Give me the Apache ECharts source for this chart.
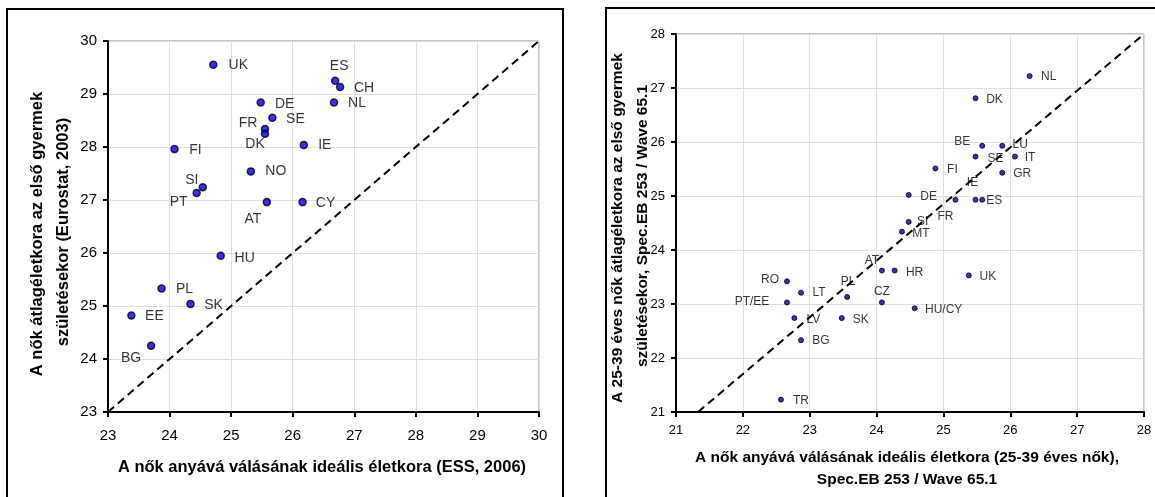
<!DOCTYPE html>
<html>
<head>
<meta charset="utf-8">
<script src="https://cdn.jsdelivr.net/npm/echarts@6/dist/echarts.min.js"></script>
<style>
  html, body { margin: 0; padding: 0; background: #fff; }
  #main { width: 1155px; height: 497px; }
</style>
</head>
<body>
<div id="main"></div>
<script>
// bal oldali ábra (ESS 2006 / Eurostat 2003)
var codesL = ['UK', 'ES', 'CH', 'DE', 'NL', 'SE', 'FR', 'DK', 'FI', 'IE', 'NO', 'SI', 'PT', 'AT', 'CY', 'HU', 'PL', 'SK', 'EE', 'BG'];
var xL = [24.71, 26.69, 26.77, 25.48, 26.67, 25.67, 25.55, 25.55, 24.08, 26.18, 25.32, 24.54, 24.44, 25.58, 26.16, 24.83, 23.87, 24.34, 23.38, 23.70];
var yL = [29.55, 29.25, 29.13, 28.84, 28.84, 28.55, 28.34, 28.25, 27.96, 28.04, 27.54, 27.24, 27.13, 26.96, 26.96, 25.95, 25.33, 25.04, 24.82, 24.25];

// jobb oldali ábra (Spec.EB 253 / Wave 65.1)
var codesR = ['NL', 'DK', 'BE', 'LU', 'SE', 'IT', 'FI', 'GR', 'IE', 'DE', 'FR', 'ES', 'SI', 'MT', 'AT', 'HR', 'UK', 'CZ', 'HU/CY', 'RO', 'LT', 'PT/EE', 'LV', 'PL', 'SK', 'BG', 'TR'];
var xR = [26.29, 25.48, 25.58, 25.88, 25.48, 26.07, 24.88, 25.88, 25.48, 24.48, 25.18, 25.58, 24.48, 24.38, 24.08, 24.27, 25.38, 24.08, 24.57, 22.66, 22.87, 22.66, 22.77, 23.56, 23.48, 22.87, 22.57];
var yR = [27.22, 26.81, 25.93, 25.93, 25.73, 25.73, 25.51, 25.43, 24.93, 25.02, 24.93, 24.93, 24.52, 24.34, 23.62, 23.62, 23.53, 23.03, 22.92, 23.42, 23.21, 23.03, 22.74, 23.13, 22.74, 22.33, 21.23];

// tengely beosztások
var ticksL = [23, 30, 1];
var ticksR = [21, 28, 1];
// átlós vonalak
var diagL = [[23, 23], [30, 30]];
var diagR = [[21.33, 21], [28, 28]];

// címkék helye a pont közepéhez képest (px)
var offL = {
    UK: [25, 0], ES: [4, -15], CH: [24, 1], DE: [24, 2], NL: [23, 1], SE: [23, 1],
    FR: [-17, -6], DK: [-10, 10], FI: [21, 1], IE: [21, 0], NO: [25, 0], SI: [-11, -7],
    PT: [-18, 9], AT: [-14, 17], CY: [23, 1], HU: [24, 2], PL: [23, 1], SK: [23, 1],
    EE: [23, 1], BG: [-20, 12]
};
var offR = {
    NL: [19, 1], DK: [19, 1], BE: [-20, -4], LU: [18, -1], SE: [20, 2], IT: [15, 1],
    FI: [17, 1], GR: [20, 1], IE: [-3, -17], DE: [20, 2], FR: [-10, 17], ES: [12, 1],
    SI: [14, 0], MT: [19, 2], AT: [-10, -10], HR: [20, 2], UK: [19, 1], CZ: [0, -11],
    'HU/CY': [29, 1], RO: [-17, -2], LT: [18, 0], 'PT/EE': [-35, -1], LV: [19, 2],
    PL: [1, -15], SK: [19, 2], BG: [20, 1], TR: [20, 1]
};

function points(codes, xs, ys, offs) {
    var out = [];
    for (var i = 0; i < codes.length; i++) {
        out.push({
            name: codes[i],
            value: [xs[i], ys[i]],
            label: { offset: offs[codes[i]] || [18, 0] }
        });
    }
    return out;
}

var FONT = 'Liberation Sans, Arial, sans-serif';

function axis(idx, t, size, margin) {
    return {
        type: 'value', gridIndex: idx, min: t[0], max: t[1], interval: t[2],
        axisLine: { show: true, onZero: false, lineStyle: { color: '#000', width: 2 } },
        axisTick: { show: true, length: 5, lineStyle: { color: '#000', width: 2 } },
        axisLabel: { color: '#000', fontSize: size, fontFamily: FONT, margin: margin },
        splitLine: { show: true, lineStyle: { color: '#dedede', width: 1 } }
    };
}

function title(x, y, text, size, rot) {
    return {
        type: 'text', x: x, y: y, rotation: rot ? Math.PI / 2 : 0, silent: true,
        style: { text: text, font: 'bold ' + size + 'px ' + FONT, fill: '#000', align: 'center', verticalAlign: 'middle' }
    };
}

var myChart = echarts.init(document.getElementById('main'));

var option = {
    backgroundColor: '#fff',
    animation: false,
    grid: [
        { left: 108, top: 41, width: 431, height: 371, show: true, borderColor: '#8c8c8c', borderWidth: 1 },
        { left: 676, top: 34, width: 468, height: 378, show: true, borderColor: '#8c8c8c', borderWidth: 1 }
    ],
    xAxis: [axis(0, ticksL, 15, 16), axis(1, ticksR, 13, 12)],
    yAxis: [axis(0, ticksL, 15, 11), axis(1, ticksR, 13, 11)],
    graphic: [
        // keretek
        { type: 'rect', shape: { x: 7, y: 9, width: 556, height: 520 }, style: { fill: 'none', stroke: '#000', lineWidth: 2 }, silent: true },
        { type: 'rect', shape: { x: 606, y: 8, width: 580, height: 520 }, style: { fill: 'none', stroke: '#000', lineWidth: 2 }, silent: true },
        // tengelycímek
        title(322, 467, 'A nők anyává válásának ideális életkora (ESS, 2006)', 16.5),
        title(37, 234, 'A nők átlagéletkora az első gyermek', 16.5, true),
        title(63, 232, 'születésekor (Eurostat, 2003)', 16.5, true),
        title(907, 458, 'A nők anyává válásának ideális életkora (25-39 éves nők),', 15.5),
        title(907, 480, 'Spec.EB 253 / Wave 65.1', 15.5),
        title(618, 228, 'A 25-39 éves nők átlagéletkora az első gyermek', 15.5, true),
        title(643, 226, 'születésekor, Spec.EB 253 / Wave 65.1', 15.5, true)
    ],
    series: [
        {
            type: 'line', xAxisIndex: 0, yAxisIndex: 0, data: diagL, symbol: 'none', silent: true,
            lineStyle: { color: '#000', width: 2, type: [8, 5] }, z: 3
        },
        {
            type: 'line', xAxisIndex: 1, yAxisIndex: 1, data: diagR, symbol: 'none', silent: true,
            lineStyle: { color: '#000', width: 2, type: [8, 5] }, z: 3
        },
        {
            type: 'scatter', xAxisIndex: 0, yAxisIndex: 0, symbolSize: 7, z: 4,
            data: points(codesL, xL, yL, offL),
            itemStyle: { color: '#0000ff', borderColor: '#000', borderWidth: 1.5 },
            label: { show: true, position: 'inside', formatter: '{b}', color: '#000', fontSize: 14, fontFamily: FONT }
        },
        {
            type: 'scatter', xAxisIndex: 1, yAxisIndex: 1, symbolSize: 5, z: 4,
            data: points(codesR, xR, yR, offR),
            itemStyle: { color: '#0000aa', borderColor: '#000', borderWidth: 1 },
            label: { show: true, position: 'inside', formatter: '{b}', color: '#000', fontSize: 12, fontFamily: FONT }
        }
    ]
};

myChart.setOption(option);
</script>
</body>
</html>
